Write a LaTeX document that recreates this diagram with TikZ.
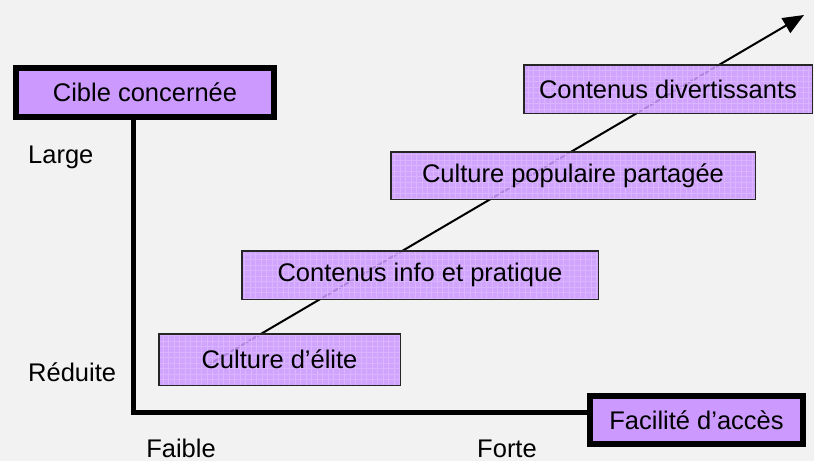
\documentclass[tikz,border=0pt]{standalone}
\usepackage{fontspec}
\setmainfont{Liberation Sans}
\usetikzlibrary{arrows.meta}

\definecolor{lilac}{HTML}{CC99FF}
\definecolor{lilacgrid}{HTML}{DAB4FF}
\definecolor{bggrey}{HTML}{F2F2F2}

\tikzset{
  content/.style={draw=black!85, line width=1.5pt, fill=lilac, fill opacity=0.87, text opacity=1, inner sep=0pt,
    path picture={\draw[lilacgrid, line width=0.6pt] (path picture bounding box.south west) grid[step=5.5pt] (path picture bounding box.north east);}},
  axisbox/.style={draw, line width=6pt, fill=lilac, inner sep=0pt},
  axisline/.style={line width=5pt},
  tick/.style={inner sep=0pt}
}

\begin{document}
\begin{tikzpicture}[x=1pt, y=-1pt, font=\fontsize{25.5}{30}\selectfont]
\fill[bggrey] (0,0) rectangle (814,461);
\useasboundingbox (0,0) rectangle (814,461);

% trend arrow, behind the boxes
\coordinate (start) at (208,365);
\coordinate (tip) at (804,15);
\draw[line width=2pt, -{Triangle[length=21pt, width=17pt]}] (start) -- (tip);

% contents
\node[content, minimum width=241.5pt, minimum height=51.5pt] (elite) at (279.5,359.5) {Culture d’élite};
\node[content, minimum width=356.5pt, minimum height=48.5pt] (info) at (420,275) {Contenus info et pratique};
\node[content, minimum width=364.5pt, minimum height=47.5pt] (popu) at (573,175.5) {Culture populaire partagée};
\node[content, minimum width=288.5pt, minimum height=48.5pt] (divert) at (668,89) {Contenus divertissants};

% axes
\node[axisbox, minimum width=258pt, minimum height=49pt] (cible) at (145,92.5) {Cible concernée};
\node[axisbox, minimum width=213pt, minimum height=48pt] (acces) at (696.5,420) {Facilité d’accès};
\coordinate (corner) at (133,412.5);
\draw[axisline] (cible.south -| corner) -- (corner) -- (corner -| acces.west);

\node[tick, anchor=base west] (large) at (28,163) {Large};
\node[tick, anchor=base west] (reduite) at (28,381) {Réduite};
\node[tick, anchor=base] (faible) at (181,457) {Faible};
\node[tick, anchor=base] (forte) at (507,457) {Forte};
\end{tikzpicture}
\end{document}
